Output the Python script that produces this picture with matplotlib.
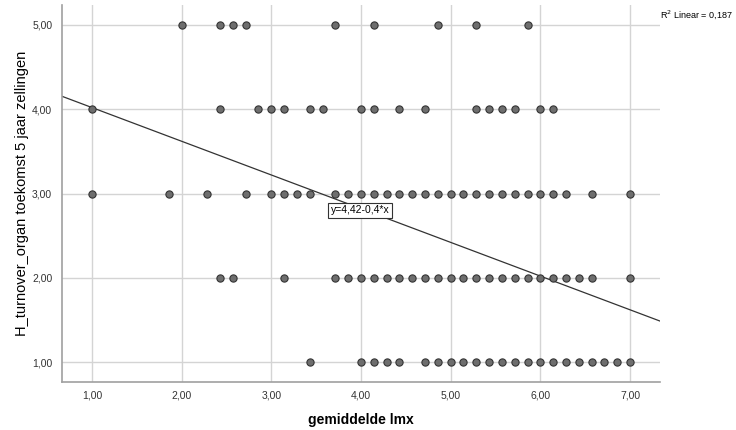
import matplotlib.pyplot as plt
import numpy as np

plt.rcParams['font.family'] = ['Liberation Sans', 'DejaVu Sans']

# x values lie on a grid of 1/7 steps (mean of 7 items)
row5_x = [14, 17, 18, 19, 26, 29, 34, 37, 41]
row4_x = [7, 17, 20, 21, 22, 24, 25, 28, 29, 31, 33, 37, 38, 39, 40, 42, 43]
row3_x = [7, 13, 16, 19, 21, 22, 23, 24, 26, 27] + list(range(28, 45)) + [46, 49]
row2_x = [17, 18, 22] + list(range(26, 47)) + [49]
row1_x = [24, 28, 29, 30, 31] + list(range(33, 50))

rows = {5: row5_x, 4: row4_x, 3: row3_x, 2: row2_x, 1: row1_x}

intercept = 4.42
slope = -0.4
r2 = 0.187

x_ticks = [1, 2, 3, 4, 5, 6, 7]
y_ticks = [1, 2, 3, 4, 5]


def comma(v):
    return f"{v:.2f}".replace(".", ",")


fig = plt.figure(figsize=(7.36, 4.30), dpi=100)
ax = fig.add_axes([0.0842, 0.1116, 0.8125, 0.8768])

for yv, xs in rows.items():
    xs = np.array(xs) / 7
    ax.plot(xs, np.full(len(xs), yv), 'o', ms=5.2, mfc='#6e6e6e',
            mec='#333333', mew=0.8, zorder=3)

xl = np.array([0.666, 7.334])
ax.plot(xl, intercept + slope * xl, color='#333333', lw=0.9, zorder=2)

ax.text(3.66, 2.80, "y=4,42-0,4*x", fontsize=7.5, va='center', ha='left',
        bbox=dict(boxstyle='square,pad=0.25', fc='white', ec='#333333', lw=0.8),
        zorder=4)

ax.set_xlim(0.666, 7.334)
ax.set_ylim(0.763, 5.237)
ax.set_xticks(x_ticks)
ax.set_yticks(y_ticks)
ax.set_xticklabels([comma(v) for v in x_ticks])
ax.set_yticklabels([comma(v) for v in y_ticks])
ax.tick_params(length=0, labelsize=7.5, colors='#333333')
ax.tick_params(axis='x', pad=6)
ax.tick_params(axis='y', pad=7)
ax.grid(True, color='#d4d4d4', lw=1)
ax.set_axisbelow(True)
for s in ['top', 'right']:
    ax.spines[s].set_visible(False)
for s in ['left', 'bottom']:
    ax.spines[s].set_color('#a0a0a0')
    ax.spines[s].set_linewidth(1.2)

ax.set_xlabel("gemiddelde lmx", fontsize=10, fontweight='bold', labelpad=9)
ax.set_ylabel("H_turnover_organ toekomst 5 jaar zellingen", fontsize=10.5,
              fontweight='medium', labelpad=2)

fig.text(0.897, 0.967, "R$^2$ Linear = 0,187", fontsize=6.5, ha='left', va='center')

fig.savefig("out.png", dpi=100)
